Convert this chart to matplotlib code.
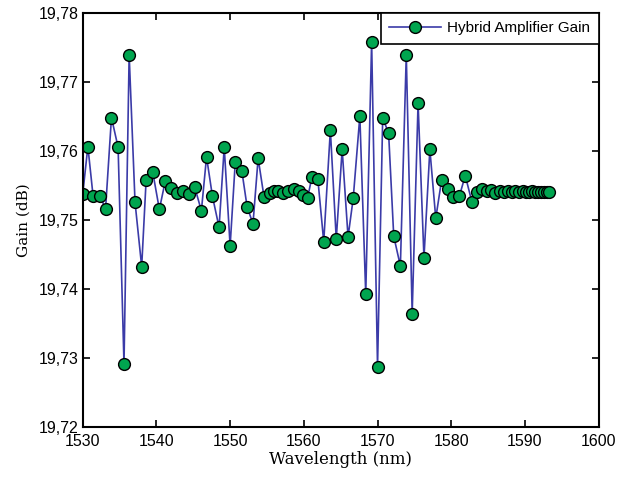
import numpy as np
import matplotlib
matplotlib.use("Agg")
import matplotlib.pyplot as plt
from matplotlib.ticker import FuncFormatter, MultipleLocator

# ==================== DATA ====================
wavelength = [
    1530.0, 1530.7, 1531.4, 1532.3, 1533.1, 1533.9, 1534.8, 1535.6, 1536.3, 1537.1,
    1538.0, 1538.6, 1539.5, 1540.4, 1541.2, 1542.0, 1542.8, 1543.6, 1544.4, 1545.2,
    1546.1, 1546.8, 1547.6, 1548.5, 1549.2, 1550.0, 1550.7, 1551.6, 1552.3, 1553.1,
    1553.8, 1554.6, 1555.4, 1555.9, 1556.5, 1557.2, 1557.9, 1558.6, 1559.3, 1559.9,
    1560.5, 1561.1, 1561.9, 1562.7, 1563.6, 1564.4, 1565.2, 1566.0, 1566.7, 1567.6,
    1568.4, 1569.2, 1570.0, 1570.7, 1571.5, 1572.2, 1573.1, 1573.9, 1574.7, 1575.5,
    1576.3, 1577.1, 1577.9, 1578.7, 1579.5, 1580.3, 1581.1, 1581.9, 1582.8, 1583.5,
    1584.2, 1584.8, 1585.4, 1586.0, 1586.6, 1587.2, 1587.7, 1588.3, 1588.7, 1589.2,
    1589.7, 1590.2, 1590.6, 1591.0, 1591.4, 1591.8, 1592.2, 1592.6, 1593.0, 1593.3,
]
gain = [
    19.7537, 19.7606, 19.7535, 19.7535, 19.7516, 19.7648, 19.7605, 19.7291, 19.7739, 19.7525,
    19.7432, 19.7557, 19.7569, 19.7515, 19.7556, 19.7546, 19.7539, 19.7542, 19.7537, 19.7547,
    19.7513, 19.7591, 19.7534, 19.7489, 19.7605, 19.7462, 19.7584, 19.7570, 19.7519, 19.7494,
    19.7589, 19.7533, 19.7538, 19.7541, 19.7541, 19.7538, 19.7542, 19.7544, 19.7541, 19.7536,
    19.7531, 19.7562, 19.7559, 19.7468, 19.7630, 19.7472, 19.7602, 19.7475, 19.7531, 19.7650,
    19.7392, 19.7758, 19.7287, 19.7647, 19.7626, 19.7476, 19.7433, 19.7739, 19.7364, 19.7669,
    19.7445, 19.7602, 19.7502, 19.7558, 19.7544, 19.7533, 19.7534, 19.7564, 19.7526, 19.7540,
    19.7545, 19.7541, 19.7543, 19.7539, 19.7542, 19.7540, 19.7541, 19.7540, 19.7541, 19.7540,
    19.7541, 19.7540, 19.7540, 19.7541, 19.7540, 19.7540, 19.7540, 19.7540, 19.7540, 19.7540,
]
series_label = "Hybrid Amplifier Gain"

# ==================== STYLE ====================
LINE_COLOR = "#3b3ba8"
MARKER_FACE = "#00a54f"
TICK_FONT = ["Liberation Sans Narrow", "Liberation Sans", "DejaVu Sans"]
LABEL_FONT = ["DejaVu Serif"]

fig = plt.figure(figsize=(6.21, 4.78), dpi=100)
ax = fig.add_axes([0.1332, 0.1073, 0.8308, 0.8661])

ax.plot(wavelength, gain, color=LINE_COLOR, linewidth=1.2,
        marker="o", markersize=8.5, markerfacecolor=MARKER_FACE,
        markeredgecolor="black", markeredgewidth=1.0, label=series_label)

ax.set_xlim(1530, 1600)
ax.set_ylim(19.72, 19.78)
ax.xaxis.set_major_locator(MultipleLocator(10))
ax.yaxis.set_major_locator(MultipleLocator(0.01))
ax.yaxis.set_major_formatter(FuncFormatter(lambda v, p: f"{v:.2f}".replace(".", ",")))

ax.tick_params(direction="in", top=True, right=True, length=5, width=1.2,
               labelsize=11.5)
ax.tick_params(axis="x", pad=5)
ax.tick_params(axis="y", pad=3)
for lbl in ax.get_xticklabels() + ax.get_yticklabels():
    lbl.set_family(TICK_FONT)
for s in ax.spines.values():
    s.set_linewidth(1.5)

ax.set_xlabel("Wavelength (nm)", family=LABEL_FONT, fontsize=12, labelpad=2)
ax.set_ylabel("Gain (dB)", family=LABEL_FONT, fontsize=11, labelpad=6)

leg = ax.legend(loc="upper right", borderaxespad=0.0, fancybox=False,
                framealpha=1.0, edgecolor="black", handlelength=3.4,
                handletextpad=0.4, borderpad=0.55,
                prop={"family": TICK_FONT, "size": 11})
leg.get_frame().set_linewidth(1.2)

fig.savefig("out.png", dpi=100)
